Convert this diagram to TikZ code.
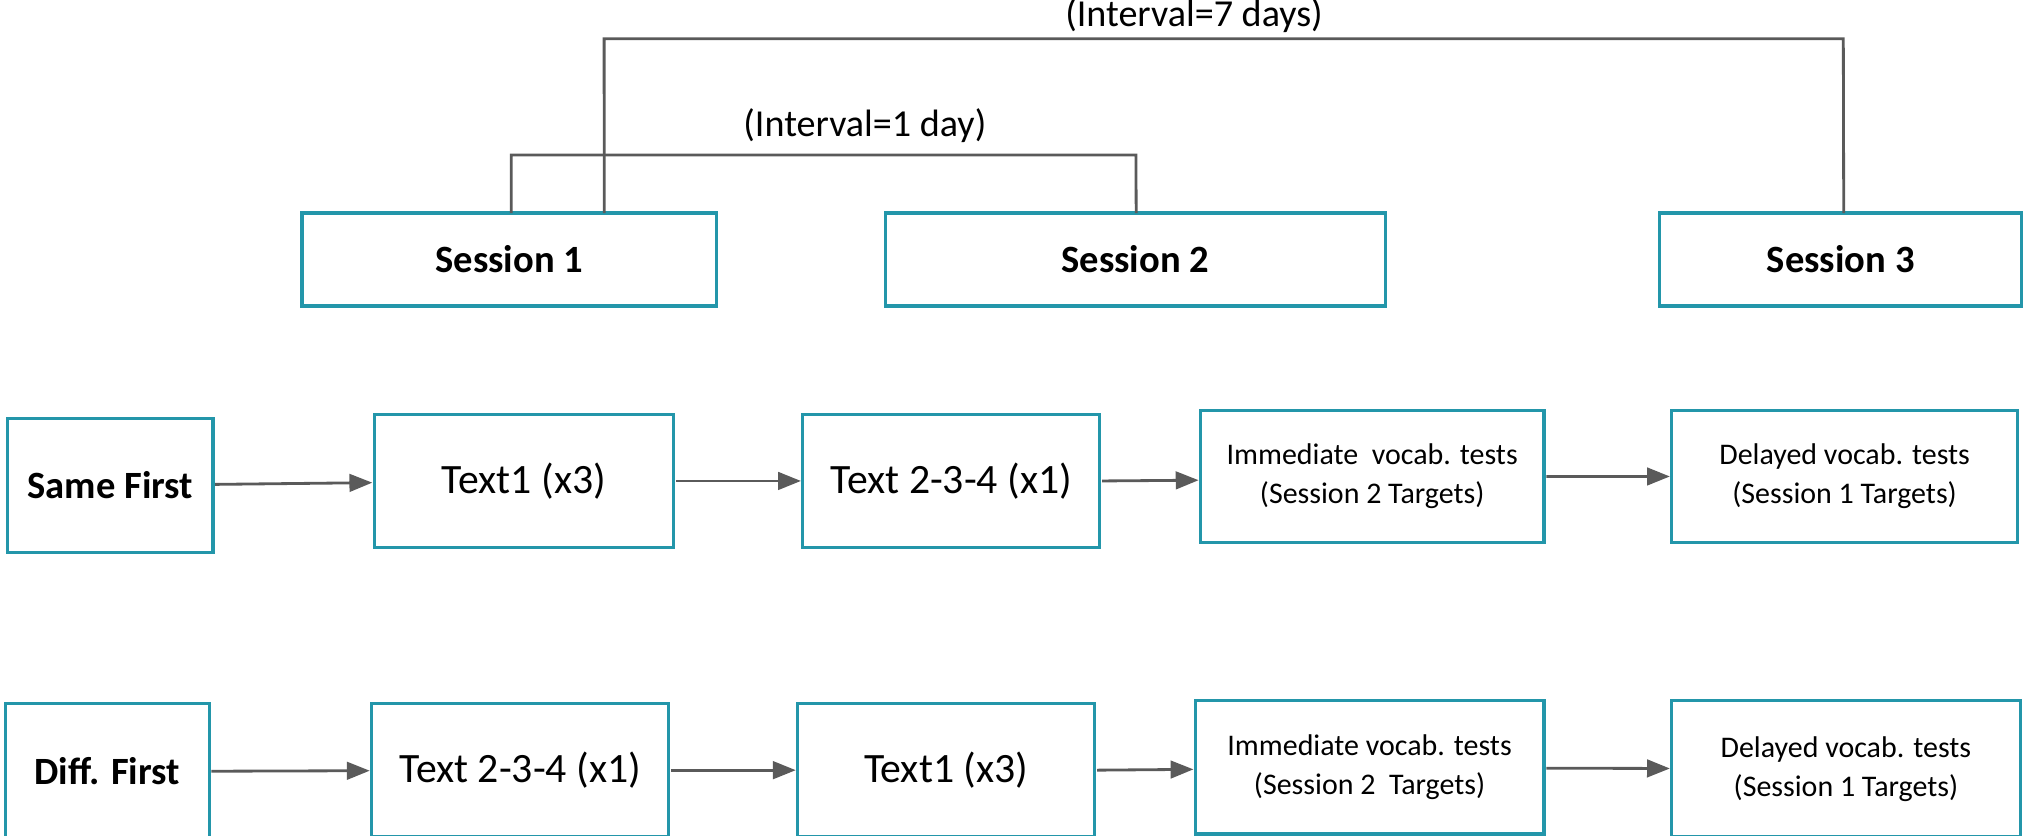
\documentclass[tikz,border=0pt]{standalone}
\usepackage{fontspec}
\setmainfont{Carlito}
\usetikzlibrary{arrows.meta}
\definecolor{teal1}{RGB}{35,150,170}
\definecolor{ln}{RGB}{90,90,90}
\begin{document}
\begin{tikzpicture}[x=0.01cm,y=-0.01cm,scale=1.2908,transform shape,
 bx/.style={draw=teal1,line width=0.9pt,inner sep=0pt,align=center,font=\fontsize{9.2}{11}\selectfont},
 hd/.style={font=\fontsize{8.5}{10}\selectfont\bfseries},
 sm/.style={font=\fontsize{6.6}{8.6}\selectfont},
 ar/.style={draw=ln,line width=0.8pt,-{Triangle[length=6.5pt,width=5pt]}},
 br/.style={draw=ln,line width=0.8pt}]
\useasboundingbox (0,0) rectangle (1568,647.6);
\node[bx,hd,minimum width=3.21cm,minimum height=0.72cm] (s1) at (394.5,201) {Session 1};
\node[bx,hd,minimum width=3.87cm,minimum height=0.72cm] (s2) at (879.5,201) {Session 2};
\node[bx,hd,minimum width=2.80cm,minimum height=0.72cm] (s3) at (1426,201) {Session 3};
\node[bx,hd,minimum width=1.59cm,minimum height=1.04cm] (a0) at (85.5,376) {Same First};
\node[bx,minimum width=2.32cm,minimum height=1.03cm] (a1) at (406,372.5) {Text1 (x3)};
\node[bx,minimum width=2.30cm,minimum height=1.03cm] (a2) at (737,372.5) {Text 2-3-4 (x1)};
\node[bx,sm,minimum width=2.66cm,minimum height=1.02cm] (a3) at (1063,369) {Immediate\ \ vocab. tests\\(Session 2 Targets)};
\node[bx,sm,minimum width=2.68cm,minimum height=1.02cm] (a4) at (1429,369) {Delayed vocab. tests\\(Session 1 Targets)};
\node[bx,hd,minimum width=1.58cm,minimum height=1.05cm] (b0) at (83,597.5) {Diff. First};
\node[bx,minimum width=2.30cm,minimum height=1.03cm] (b1) at (403,596.5) {Text 2-3-4 (x1)};
\node[bx,minimum width=2.30cm,minimum height=1.03cm] (b2) at (733,596.5) {Text1 (x3)};
\node[bx,sm,minimum width=2.70cm,minimum height=1.03cm] (b3) at (1061,594.5) {Immediate vocab. tests\\(Session 2\ \ Targets)};
\node[bx,sm,minimum width=2.70cm,minimum height=1.05cm] (b4) at (1430,595.5) {Delayed vocab. tests\\(Session 1 Targets)};
\draw[ar] (a0) -- (a1);
\draw[ar] (a1.east) -- (a2.west);
\draw[ar] (a2.east) -- (a3.west|-0,372);
\draw[ar] (a3) -- (a4);
\draw[ar] (b0) -- (b1);
\draw[ar] (b1.east) -- (b2.west);
\draw[ar] (b2.east) -- (b3.west|-0,596);
\draw[ar] (b3) -- (b4);
\coordinate (p1) at (396,165); \coordinate (p2) at (880,165);
\coordinate (q1) at (468,165); \coordinate (q2) at (1428,165);
\draw[br] (p1) -- (396,120) -- (880,120) -- (p2);
\draw[br] (q1) -- (468,30) -- (1428,30) -- (q2);
\node[font=\fontsize{8.4}{10}\selectfont] (l1) at (670,97) {(Interval=1 day)};
\node[font=\fontsize{8.4}{10}\selectfont] (l2) at (925,12) {(Interval=7 days)};
\end{tikzpicture}
\end{document}
